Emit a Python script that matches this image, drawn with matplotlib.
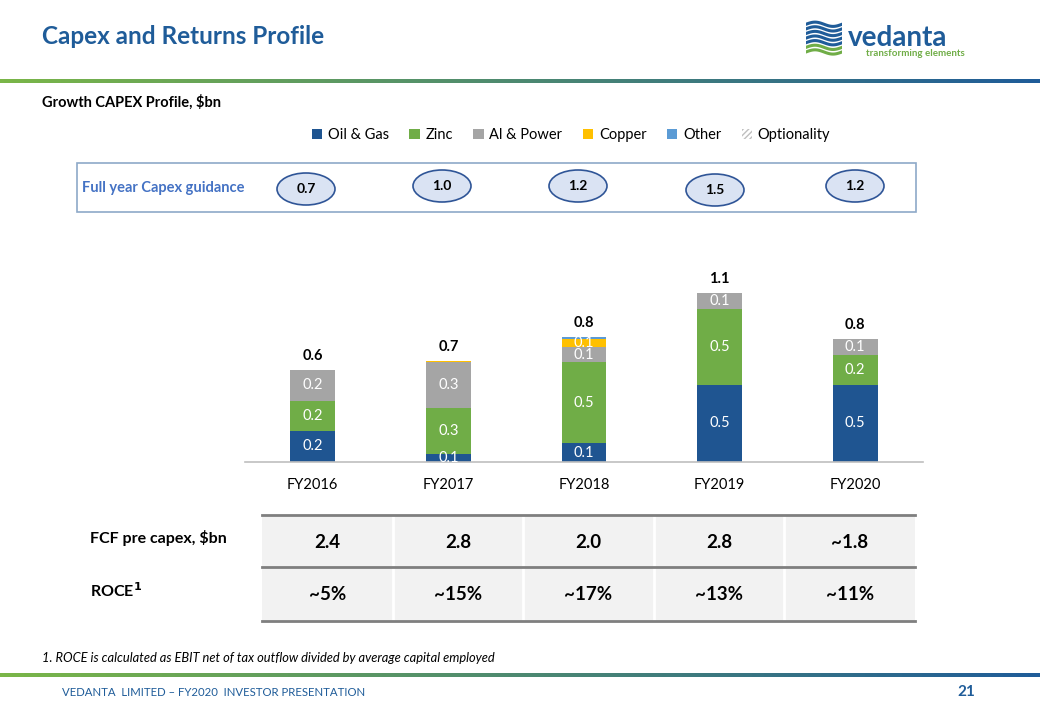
import numpy as np
import matplotlib.pyplot as plt
from matplotlib.patches import Patch, Ellipse, Rectangle

plt.rcParams['font.family'] = ['Lato', 'DejaVu Sans']

# data
years = ['FY2016', 'FY2017', 'FY2018', 'FY2019', 'FY2020']
oil_gas = [0.2, 0.05, 0.12, 0.5, 0.5]
zinc = [0.2, 0.3, 0.53, 0.5, 0.2]
al_power = [0.2, 0.3, 0.1, 0.1, 0.1]
copper = [0.0, 0.01, 0.055, 0.0, 0.0]
other = [0.0, 0.0, 0.013, 0.0, 0.0]
guidance = [0.7, 1.0, 1.2, 1.5, 1.2]
fcf = ['2.4', '2.8', '2.0', '2.8', '~1.8']
roce = ['~5%', '~15%', '~17%', '~13%', '~11%']

series = [('Oil & Gas', oil_gas, '#1F5591'),
          ('Zinc', zinc, '#70AD47'),
          ('Al & Power', al_power, '#A5A5A5'),
          ('Copper', copper, '#FFC000'),
          ('Other', other, '#5B9BD5')]

W, H = 1040, 720
BLUE = '#1F5C99'

def fx(x):
    return x / W

def fy(y):
    return 1 - y / H

fig = plt.figure(figsize=(10.4, 7.2), dpi=100)

# gradient rules
def grad_line(y, h):
    gax = fig.add_axes([0, fy(y + h / 2), 1, h / H])
    g = np.linspace(0, 1, 256)
    c0 = np.array([0x7A, 0xB6, 0x48]) / 255
    c1 = np.array([0x1F, 0x5C, 0x99]) / 255
    img = (c0[None, :] * (1 - g[:, None]) + c1[None, :] * g[:, None])[None, :, :]
    gax.imshow(img, aspect='auto', extent=[0, 1, 0, 1])
    gax.axis('off')

grad_line(81, 4)
grad_line(675, 4)

# header
fig.text(fx(42), fy(37), 'Capex and Returns Profile', fontsize=17.5, fontweight='bold',
         color=BLUE, va='center')
fig.text(fx(848), fy(38), 'vedanta', fontsize=20, fontweight='bold', color=BLUE, va='center')
fig.text(fx(866), fy(54), 'transforming elements', fontsize=7, fontweight='bold',
         color='#70AD47', va='center')
lax = fig.add_axes([fx(806), fy(58), fx(36), 38 / H])
t = np.linspace(0, 1, 50)
for k in range(7):
    yy = 1 - k * 0.13
    col = BLUE if k < 5 else '#70AD47'
    lax.plot(t, yy + 0.06 * np.sin(t * 2 * np.pi), color=col, lw=2.2)
lax.set_xlim(0, 1)
lax.set_ylim(0.05, 1.12)
lax.axis('off')

fig.text(fx(42), fy(102), 'Growth CAPEX Profile, \\$bn', fontsize=10.5, fontweight='bold',
         va='center')

# chart
ax = fig.add_axes([fx(245), fy(461.7), fx(923 - 245), 229.5 / H])
x = np.arange(len(years))
bottom = np.zeros(len(years))
for name, vals, col in series:
    vals = np.array(vals)
    ax.bar(x, vals, 0.33, bottom=bottom, color=col, label=name)
    for i, v in enumerate(vals):
        if v >= 0.03:
            ax.text(x[i], bottom[i] + v / 2, f'{v:.1f}', ha='center', va='center',
                    color='white', fontsize=10.5)
    bottom += vals
for i, tot in enumerate(bottom):
    ax.annotate(f'{tot:.1f}', (x[i], tot), xytext=(0, 5), textcoords='offset points',
                ha='center', va='bottom', fontsize=10.5, fontweight='bold')
ax.set_xlim(-0.5, 4.5)
ax.set_ylim(0, 1.5)
ax.set_xticks(x)
ax.set_xticklabels(years, fontsize=10.5)
ax.tick_params(axis='x', length=0, pad=12)
ax.set_yticks([])
for s in ['top', 'right', 'left']:
    ax.spines[s].set_visible(False)
ax.spines['bottom'].set_color('#BFBFBF')
ax.spines['bottom'].set_linewidth(1.2)

handles = [Patch(facecolor=c, label=n) for n, _, c in series]
handles.append(Patch(facecolor='white', edgecolor='#BFBFBF', hatch='//////', lw=0,
                     label='Optionality'))
fig.legend(handles=handles, loc='center', bbox_to_anchor=(fx(571), fy(135)), ncol=6,
           frameon=False, fontsize=10.5, handlelength=0.7, handleheight=0.7,
           handletextpad=0.4, columnspacing=1.4)

# guidance box
fig.patches.append(Rectangle((fx(77), fy(212)), fx(916 - 77), 49 / H, transform=fig.transFigure,
                             facecolor='white', edgecolor='#8EA9C8', lw=1.2))
fig.text(fx(82), fy(188), 'Full year Capex guidance', fontsize=10.5, fontweight='bold',
         color='#4472C4', va='center')
gx = [306, 442, 578, 715, 855]
gy = [189, 186, 186, 190, 186]
for i, g in enumerate(guidance):
    fig.patches.append(Ellipse((fx(gx[i]), fy(gy[i])), fx(58), 32 / H,
                               transform=fig.transFigure, facecolor='#DAE3F3',
                               edgecolor='#2F5597', lw=1.2))
    fig.text(fx(gx[i]), fy(gy[i]), f'{g:.1f}', fontsize=10, fontweight='bold',
             ha='center', va='center')

# table
tx0, tx1 = 262, 915
cw = (tx1 - tx0) / 5
rows_y = [515, 567, 621]
fig.patches.append(Rectangle((fx(tx0), fy(rows_y[2])), fx(tx1 - tx0), (rows_y[2] - rows_y[0]) / H,
                             transform=fig.transFigure, facecolor='#F2F2F2', lw=0))
for j in range(1, 5):
    xx = fx(tx0 + j * cw)
    fig.add_artist(plt.Line2D([xx, xx], [fy(rows_y[0]), fy(rows_y[2])], color='white', lw=2,
                              transform=fig.transFigure))
for yv in rows_y:
    fig.add_artist(plt.Line2D([fx(tx0), fx(tx1)], [fy(yv), fy(yv)], color='#7F7F7F', lw=2,
                              transform=fig.transFigure))
for j in range(5):
    cx = fx(tx0 + (j + 0.5) * cw)
    fig.text(cx, fy(542), fcf[j], fontsize=13.5, fontweight='bold', ha='center', va='center')
    fig.text(cx, fy(595), roce[j], fontsize=13.5, fontweight='bold', ha='center', va='center')
fig.text(fx(90), fy(538), 'FCF pre capex, \\$bn', fontsize=11.5, fontweight='bold', va='center')
fig.text(fx(90), fy(591), 'ROCE$^{\\mathbf{1}}$', fontsize=11.5, fontweight='bold', va='center')

# footnotes
fig.text(fx(42), fy(658), '1. ROCE is calculated as EBIT net of tax outflow divided by average capital employed',
         fontsize=9.3, style='italic', va='center')
fig.text(fx(62), fy(693), 'VEDANTA  LIMITED \u2013 FY2020  INVESTOR PRESENTATION', fontsize=8.2,
         color=BLUE, va='center')
fig.text(fx(975), fy(692), '21', fontsize=11, fontweight='bold', color=BLUE, ha='right', va='center')

fig.savefig('out.png', dpi=100)
